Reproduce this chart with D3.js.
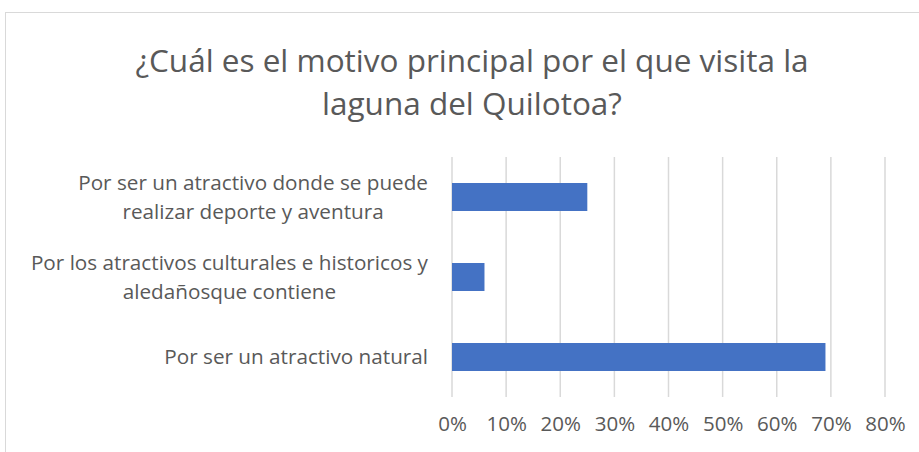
<!DOCTYPE html>
<html><head>
<meta charset="utf-8">
<script src="https://d3js.org/d3.v7.min.js"></script>
<style>
  body { margin: 0; background: #fff; }
  text { font-family: "Open Sans", sans-serif; fill: #595959; }
  .grid line { stroke: #d9d9d9; stroke-width: 1.5px; }
</style>
</head>
<body>
<svg id="chart" width="919" height="452"></svg>
<script>
// chart data
const categories = [
  ["Por ser un atractivo donde se puede", "realizar deporte y aventura"],
  ["Por los atractivos culturales e historicos y", "aledañosque contiene"],
  ["Por ser un atractivo natural"]
];
const values = [0.25, 0.06, 0.69];
const tickValues = [0, 0.1, 0.2, 0.3, 0.4, 0.5, 0.6, 0.7, 0.8];
const titleLines = ["¿Cuál es el motivo principal por el que visita la", "laguna del Quilotoa?"];

const svg = d3.select("#chart");

// chart border (right and bottom run past the crop)
svg.append("rect")
  .attr("x", 5.5).attr("y", 12.5)
  .attr("width", 1000).attr("height", 1000)
  .attr("fill", "none").attr("stroke", "#d9d9d9");

// title
svg.append("g").selectAll("text").data(titleLines)
  .join("text")
  .attr("x", 472)
  .attr("y", (d, i) => 72 + i * 43)
  .attr("text-anchor", "middle")
  .style("font-size", "31.5px")
  .text(d => d);

const x = d3.scaleLinear().domain([0, 0.8]).range([452, 885]);
const y = d3.scaleBand().domain(d3.range(categories.length)).range([157, 397])
  .paddingInner(0.65).paddingOuter(0.325);

// vertical gridlines
svg.append("g").attr("class", "grid")
  .selectAll("line").data(tickValues)
  .join("line")
  .attr("x1", d => x(d)).attr("x2", d => x(d))
  .attr("y1", 157).attr("y2", 397);

// bars
svg.append("g").selectAll("rect").data(values)
  .join("rect")
  .attr("x", x(0))
  .attr("y", (d, i) => y(i))
  .attr("width", d => x(d) - x(0))
  .attr("height", y.bandwidth())
  .attr("fill", "#4472c4");

// x axis tick labels
const xAxis = d3.axisBottom(x).tickValues(tickValues).tickFormat(d3.format(".0%")).tickSize(0);
const ax = svg.append("g").attr("transform", "translate(0,413)").call(xAxis);
ax.select(".domain").remove();
ax.selectAll("text").attr("fill", null).style("font-size", "20.5px").style("font-family", null);

// category labels: block right-aligned, lines centered within block
const labelRight = 428;
const lineH = 29;
categories.forEach((lines, i) => {
  const g = svg.append("g");
  const texts = g.selectAll("text").data(lines).join("text")
    .style("font-size", "20.7px")
    .attr("text-anchor", "middle")
    .attr("dy", "0.35em")
    .text(d => d);
  let maxW = 0;
  texts.each(function() { maxW = Math.max(maxW, this.getComputedTextLength()); });
  const cy = y(i) + y.bandwidth() / 2;
  texts.attr("x", labelRight - maxW / 2)
    .attr("y", (d, j) => cy + (j - (lines.length - 1) / 2) * lineH);
});
</script>
</body>
</html>
